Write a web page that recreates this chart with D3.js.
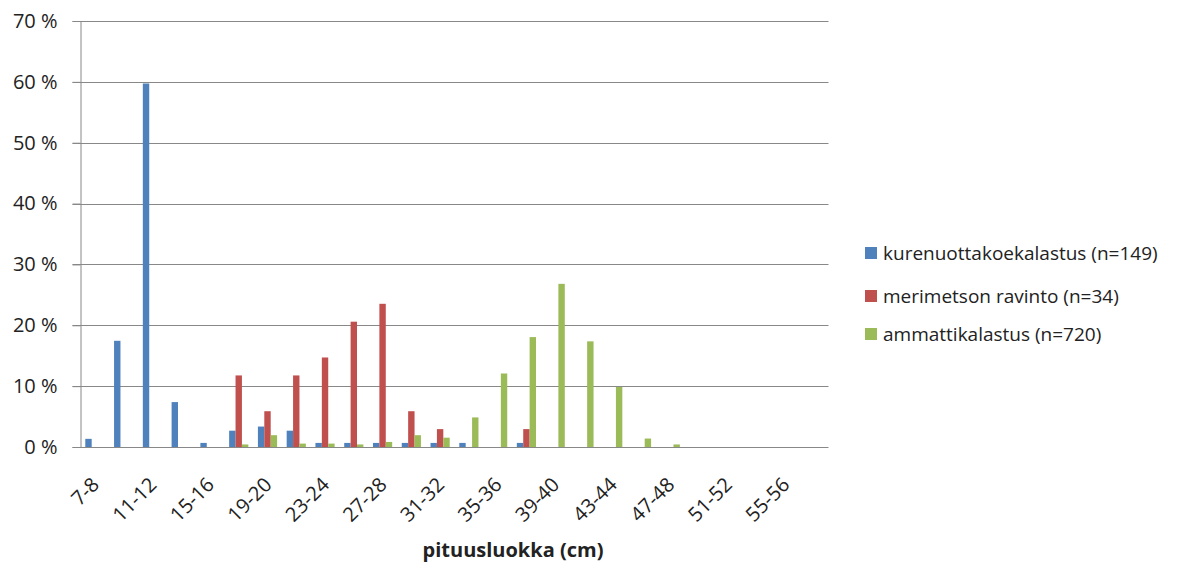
<!DOCTYPE html>
<html><head><meta charset="utf-8">
<script src="https://cdn.jsdelivr.net/npm/d3@7"></script>
<style>body{margin:0;background:#fff;}svg{display:block;}</style>
</head><body>
<script>
const categories = ["7-8","9-10","11-12","13-14","15-16","17-18","19-20","21-22","23-24","25-26","27-28","29-30","31-32","33-34","35-36","37-38","39-40","41-42","43-44","45-46","47-48","49-50","51-52","53-54","55-56","57-58"];
const seriesNames = ["kurenuottakoekalastus (n=149)","merimetson ravinto (n=34)","ammattikalastus (n=720)"];
const kurenuotta = [1.34,17.45,59.73,7.38,0.67,2.68,3.36,2.68,0.67,0.67,0.67,0.67,0.67,0.67,0,0.67,0,0,0,0,0,0,0,0,0,0];
const merimetso  = [0,0,0,0,0,11.76,5.88,11.76,14.71,20.59,23.53,5.88,2.94,0,0,2.94,0,0,0,0,0,0,0,0,0,0];
const ammatti    = [0,0,0,0,0,0.42,1.94,0.56,0.56,0.42,0.83,1.94,1.53,4.86,12.08,18.06,26.81,17.36,9.86,1.39,0.42,0,0,0,0,0];
const yTicks = [0,10,20,30,40,50,60,70];
const colors = ["#4F81BD","#C0504D","#9BBB59"];
const xTitle = "pituusluokka (cm)";

const W=1188,H=563;
const svg=d3.select("body").append("svg").attr("width",W).attr("height",H);
const pLeft=80.5,pRight=828.5,pTop=21,pBottom=447;
const font="'Open Sans', 'Liberation Sans', sans-serif";

const x=d3.scaleBand().domain(categories).range([pLeft,pRight]).paddingInner(0).paddingOuter(0);
const y=d3.scaleLinear().domain([0,70]).range([pBottom,pTop]);
const bw=x.bandwidth()/4.5;
const x1=d3.scaleBand().domain([0,1,2]).range([x.bandwidth()/2-1.5*bw, x.bandwidth()/2+1.5*bw]);

// gridlines
svg.append("g").selectAll("line").data(yTicks.filter(d=>d>0)).join("line")
 .attr("x1",pLeft-8).attr("x2",pRight).attr("y1",d=>Math.round(y(d))+0.5).attr("y2",d=>Math.round(y(d))+0.5)
 .attr("stroke","#888").attr("stroke-width",1);

// y axis
const yAxis=d3.axisLeft(y).tickValues(yTicks).tickFormat(d=>d+" %").tickSize(8).tickSizeOuter(0);
const gy=svg.append("g").attr("transform",`translate(${pLeft},0)`).call(yAxis);
gy.select(".domain").attr("stroke","#888");
gy.selectAll(".tick line").attr("stroke","#888");
gy.selectAll(".tick text").attr("font-family",font).attr("font-size",20).attr("fill","#222").attr("x",-23);

const data=[kurenuotta,merimetso,ammatti];
data.forEach((vals,si)=>{
  svg.append("g").selectAll("rect").data(vals.map((v,i)=>({c:categories[i],v}))).join("rect")
   .filter(d=>d.v>0)
   .attr("x",d=>x(d.c)+x1(si)).attr("width",x1.bandwidth())
   .attr("y",d=>y(d.v)).attr("height",d=>pBottom-y(d.v))
   .attr("fill",colors[si]);
});

// x axis
const xAxis=d3.axisBottom(x).tickValues(categories.filter((c,i)=>i%2===0 && i<25)).tickSize(0).tickPadding(0);
const gx=svg.append("g").attr("transform",`translate(0,${pBottom})`).call(xAxis);
gx.select(".domain").attr("d",`M${pLeft-8},0.5H${pRight}`).attr("stroke","#888");
gx.selectAll(".tick text").attr("font-family",font).attr("font-size",20).attr("fill","#222")
 .attr("text-anchor","end").attr("dy",0).attr("y",0)
 .attr("transform","translate(5.5,39) rotate(-45)");

svg.append("text").attr("x",513).attr("y",557).attr("text-anchor","middle")
 .attr("font-family",font).attr("font-size",20).attr("font-weight","bold").attr("fill","#222").text(xTitle);

// legend
const lg=svg.append("g");
const ly=[253,296,334];
seriesNames.forEach((n,i)=>{
  lg.append("rect").attr("x",865).attr("y",ly[i]-6).attr("width",12).attr("height",12).attr("fill",colors[i]);
  lg.append("text").attr("x",883).attr("y",ly[i]).attr("dy","0.35em").attr("font-family",font).attr("font-size",19).attr("fill","#222").text(n);
});
</script>
</body></html>
